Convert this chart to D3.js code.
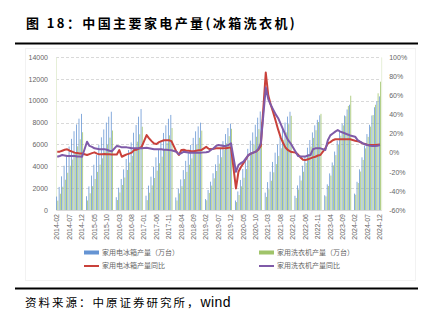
<!DOCTYPE html>
<html><head><meta charset="utf-8">
<script src="https://cdn.jsdelivr.net/npm/d3@7"></script>
<style>
html,body{margin:0;padding:0;background:#fff;}
svg{display:block;}
</style>
</head><body>
<svg id="c" width="430" height="323"></svg>
<script>
const years = [2014,2015,2016,2017,2018,2019,2020,2021,2022,2023,2024];
// cumulative output, Feb..Dec of each year (万台)
const fridgeOutput = [
  [1230,2110,3080,4050,4930,5810,6510,7210,7830,8360,8796],
  [1260,2160,3150,4140,5040,5940,6650,7370,8000,8540,8993],
  [1170,2040,2840,3720,4670,5490,6190,7070,7780,8540,9238],
  [1310,2230,3050,3940,4820,5580,6350,7050,7750,8350,8700],
  [1150,1950,2800,3650,4500,5300,5950,6600,7200,7650,7993],
  [1000,1830,2590,3360,4180,5030,5650,6300,6950,7500,7904],
  [870,1700,2750,3750,4750,5600,6350,7100,7800,8450,9015],
  [1590,2550,3500,4400,5250,6000,6700,7400,8000,8550,8992],
  [1300,2250,3150,4050,4900,5700,6400,7100,7750,8250,8664],
  [1350,2350,3350,4350,5350,6350,7150,7900,8650,9200,9632],
  [1500,2580,3720,4820,5900,6950,7800,8650,9400,9950,10396]
];
const washerOutput = [
  [850,1490,2130,2770,3410,4050,4620,5260,5830,6470,7114],
  [870,1530,2180,2840,3490,4150,4730,5380,5970,6620,7275],
  [910,1600,2290,2970,3660,4340,4950,5640,6250,6930,7621],
  [900,1580,2250,2930,3600,4280,4880,5550,6150,6830,7501],
  [870,1520,2180,2830,3490,4140,4720,5370,5950,6610,7262],
  [890,1560,2230,2900,3570,4240,4830,5500,6100,6760,7433],
  [720,1370,2170,2950,3750,4550,5250,6000,6700,7400,8042],
  [1200,1900,2680,3450,4200,4950,5650,6420,7100,7850,8619],
  [1100,1880,2700,3500,4300,5100,5800,6600,7300,8050,8800],
  [1250,2200,3150,4080,5020,5960,6800,7740,8580,9520,10458],
  [1400,2470,3520,4580,5640,6690,7630,8690,9630,10680,11740]
];
// cumulative YoY (%), Feb..Dec
const fridgeYoY = [
  [1,1,2,3,3.5,2,1,0,-0.5,-1,-1],
  [-2.5,-1.5,-0.5,0.3,-1,-1.8,-1.8,-1.5,-1.8,-1.8,-2],
  [-2,2.7,-4.3,-3,-1.8,-1,0,2.7,3,4.5,6],
  [18.4,15,12,9.5,9,11,12,13,13,13,12],
  [1,-2.5,2.7,3,2,2,1.5,1.5,2,2.5,2.7],
  [6,4,3.5,4,4.5,4.5,4.5,4.5,4.5,5,5.5],
  [-37.4,-20,-15,-11,-7,-2.5,-1,0,1,3,7],
  [83.7,60,50,42,33,24,16,10,5,2.5,1],
  [0,-2,-5,-7.5,-7.7,-7,-6,-5,-4.3,-3,-2.5],
  [4.5,9.7,11,13,14,14,14,14,14,14,14],
  [12.5,12,11,9.7,9,8,8,8,8,8.3,8.5]
];
const washerYoY = [
  [-4.3,-3.5,-2.5,-3,-3.5,-3.5,-3.5,-3.5,-4,-4,-4.3],
  [11.4,7,6,4.5,4,3.5,3.5,3.5,3,2,1.5],
  [7,6.5,5.5,5.5,5.5,5,4.5,4.5,4.5,4.5,4.5],
  [5,4.5,4,3.5,3.5,3.5,3.5,3,3,2.7,2.5],
  [1,-1.8,-0.5,1,0.5,0,0,0,0,0,0],
  [0.5,1,3,4.5,7,8,7.5,7,7,8,9.7],
  [-20,-13,-11,-9.5,-6,-2.5,-1,0,1,4,9.7],
  [68,56,50,45,40,36,30,24,18,13,9.7],
  [1,-3.6,-4,-4,-4,-3,-2.5,3.5,4.5,4.5,4.5],
  [2.7,13,18,20,22,23.7,22,21,20,19,18],
  [16.7,13,11.4,10,8.7,8,7.2,7,7,7.2,8]
];
const leftTicks = [0,2000,4000,6000,8000,10000,12000,14000];
const rightTicks = [-60,-40,-20,0,20,40,60,80,100];
const seriesNames = ["家用电冰箱产量（万台）","家用洗衣机产量（万台）","家用电冰箱产量同比","家用洗衣机产量同比"];
const titleText = "图 18：中国主要家电产量(冰箱洗衣机)";
const sourceCJK = "资料来源：中原证券研究所，";
const sourceLatin = "wind";

const colors = {fridge:"#6594d3", washer:"#a0c46a", fyoy:"#c9413b", wyoy:"#7f5aa8"};

// build the monthly table (January values are not published -> null)
const rows = [];
years.forEach((y, yi) => {
  for (let m = 1; m <= 12; m++) {
    if (y === 2014 && m === 1) continue;
    const k = m - 2;
    rows.push({
      label: y + "-" + String(m).padStart(2, "0"),
      fridge: m === 1 ? null : fridgeOutput[yi][k],
      washer: m === 1 ? null : washerOutput[yi][k],
      fyoy: m === 1 ? null : fridgeYoY[yi][k],
      wyoy: m === 1 ? null : washerYoY[yi][k]
    });
  }
});

const svg = d3.select("#c");
const CJK = "'Noto Sans CJK SC','Noto Sans',sans-serif";
const LAT = "'Liberation Sans',Arial,sans-serif";

// title
svg.append("text").attr("x", 26).attr("y", 28)
  .attr("font-family", CJK).attr("font-weight", "bold")
  .attr("font-size", 13).attr("letter-spacing", 2.4).attr("fill", "#000")
  .text(titleText);
svg.append("line").attr("x1", 15).attr("x2", 418).attr("y1", 43.5).attr("y2", 43.5)
  .attr("stroke", "#000").attr("stroke-width", 2);
svg.append("line").attr("x1", 15).attr("x2", 418).attr("y1", 288.5).attr("y2", 288.5)
  .attr("stroke", "#000").attr("stroke-width", 2);
const src = svg.append("text").attr("x", 25).attr("y", 307).attr("fill", "#000");
src.append("tspan").attr("font-family", CJK).attr("font-size", 11.5).attr("letter-spacing", 2)
  .text(sourceCJK);
src.append("tspan").attr("font-family", LAT).attr("font-size", 14).attr("letter-spacing", 0.4)
  .text(sourceLatin);

// chart frame (very light)
svg.append("rect").attr("x", 25.5).attr("y", 48.5).attr("width", 390).attr("height", 232)
  .attr("fill", "none").attr("stroke", "#f2f2f2");

const X0 = 56, X1 = 381.2, Y0 = 210, Y1 = 57;
const x = d3.scaleBand().domain(rows.map(d => d.label)).range([X0, X1]).paddingInner(0.2).paddingOuter(0.1);
const xs = d3.scaleBand().domain(["fridge","washer"]).range([0, x.bandwidth()]).paddingInner(0.35);
const yL = d3.scaleLinear().domain([0, 14000]).range([Y0, Y1]);
const yR = d3.scaleLinear().domain([-60, 100]).range([Y0, Y1]);

// grid
svg.append("g").selectAll("line").data(leftTicks.slice(1)).join("line")
  .attr("x1", X0).attr("x2", X1)
  .attr("y1", d => Math.round(yL(d)) + 0.5).attr("y2", d => Math.round(yL(d)) + 0.5)
  .attr("stroke", "#d9d9d9").attr("stroke-width", 1).attr("stroke-dasharray", "3,2");

// left axis
const axL = d3.axisLeft(yL).tickValues(leftTicks).tickSize(0).tickPadding(8).tickFormat(d3.format("d"));
const gL = svg.append("g").attr("transform", `translate(${X0},0)`).call(axL);
gL.select(".domain").attr("stroke", "#e6efd8");
gL.selectAll("text").attr("font-family", LAT).attr("font-size", 7).attr("fill", "#666");

// right axis
const axR = d3.axisRight(yR).tickValues(rightTicks).tickSize(0).tickPadding(8).tickFormat(d => d + "%");
const gR = svg.append("g").attr("transform", `translate(${X1},0)`).call(axR);
gR.select(".domain").attr("stroke", "#e6efd8");
gR.selectAll("text").attr("font-family", LAT).attr("font-size", 7).attr("fill", "#666");

// bottom axis
const tickLabels = rows.map(d => d.label).filter((d, i) => i % 5 === 0);
const axB = d3.axisBottom(x).tickValues(tickLabels).tickSize(0).tickPadding(0);
const gB = svg.append("g").attr("transform", `translate(0,${Y0})`).call(axB);
gB.select(".domain").attr("stroke", "#d9d9d9");
gB.selectAll("text").attr("font-family", LAT).attr("font-size", 7).attr("fill", "#666")
  .attr("text-anchor", "end").attr("dy", "0.32em").attr("dx", 0)
  .attr("transform", "translate(0,4) rotate(-90)").attr("y", 0).attr("x", 0);

// bars
const barG = svg.append("g");
["fridge","washer"].forEach(key => {
  barG.append("g").selectAll("rect").data(rows.filter(d => d[key] != null)).join("rect")
    .attr("x", d => x(d.label) + xs(key))
    .attr("width", xs.bandwidth())
    .attr("y", d => yL(d[key]))
    .attr("height", d => yL(0) - yL(d[key]))
    .attr("fill", colors[key]);
});

// lines
["fyoy","wyoy"].forEach(key => {
  const pts = rows.filter(d => d[key] != null);
  const line = d3.line().x(d => x(d.label) + x.bandwidth() / 2).y(d => yR(d[key]));
  svg.append("path").datum(pts).attr("d", line).attr("fill", "none")
    .attr("stroke", colors[key]).attr("stroke-width", 2).attr("stroke-linejoin", "round");
});

// legend
const legend = [
  {name: seriesNames[0], type: "bar", color: colors.fridge, x: 84, y: 252.5},
  {name: seriesNames[1], type: "bar", color: colors.washer, x: 259, y: 252.5},
  {name: seriesNames[2], type: "line", color: colors.fyoy, x: 84, y: 266},
  {name: seriesNames[3], type: "line", color: colors.wyoy, x: 259, y: 266}
];
const lg = svg.append("g").selectAll("g").data(legend).join("g")
  .attr("transform", d => `translate(${d.x},${d.y})`);
lg.filter(d => d.type === "bar").append("rect")
  .attr("x", 0).attr("y", -2).attr("width", 15).attr("height", 4).attr("fill", d => d.color);
lg.filter(d => d.type === "line").append("line")
  .attr("x1", 0).attr("x2", 15).attr("y1", 0).attr("y2", 0)
  .attr("stroke", d => d.color).attr("stroke-width", 2);
lg.append("text").attr("x", 18).attr("y", 0).attr("dy", "0.35em")
  .attr("font-family", CJK).attr("font-size", 7).attr("fill", "#666")
  .text(d => d.name);
</script>
</body></html>
